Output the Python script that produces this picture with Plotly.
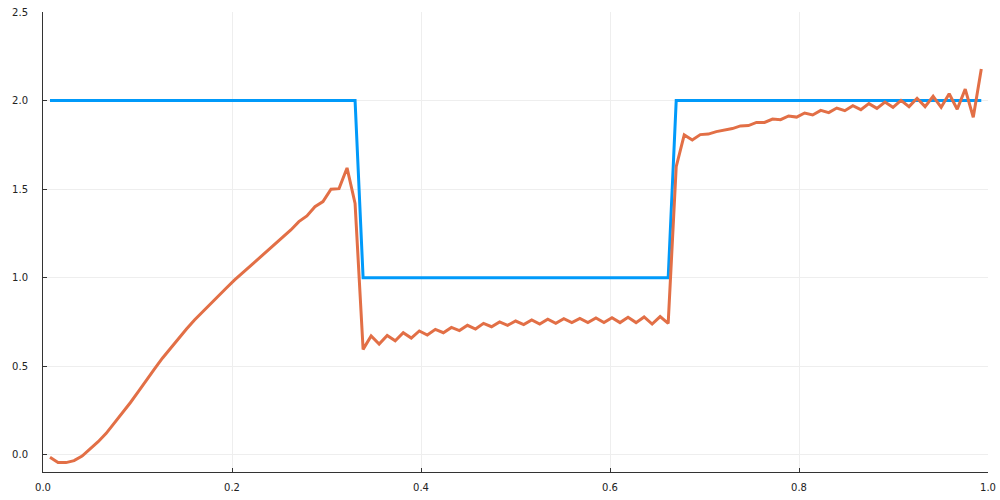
import numpy as np
import plotly.graph_objects as go

n_points = 117
x_start, x_end = 0.0074, 0.9929
x = np.linspace(x_start, x_end, n_points)

exact_levels = [2.0] * 39 + [1.0] * 39 + [2.0] * 39

approx_seg1 = [-0.013, -0.043, -0.043, -0.032, -0.006, 0.032, 0.075, 0.122, 0.179, 0.235,
               0.295, 0.357, 0.423, 0.484, 0.546, 0.602, 0.658, 0.711, 0.762, 0.809,
               0.856, 0.901, 0.944, 0.988, 1.029, 1.068, 1.108, 1.151, 1.191, 1.232,
               1.270, 1.317, 1.349, 1.401, 1.430, 1.500, 1.503, 1.620, 1.420]
approx_seg2 = [0.596, 0.672, 0.626, 0.675, 0.645, 0.690, 0.660, 0.700, 0.677, 0.709,
               0.690, 0.720, 0.702, 0.732, 0.711, 0.743, 0.724, 0.751, 0.732, 0.756,
               0.736, 0.762, 0.739, 0.766, 0.743, 0.769, 0.747, 0.771, 0.747, 0.773,
               0.747, 0.775, 0.747, 0.777, 0.747, 0.779, 0.739, 0.781, 0.743]
approx_seg3 = [1.627, 1.806, 1.778, 1.808, 1.811, 1.825, 1.834, 1.842, 1.857, 1.859,
               1.877, 1.877, 1.896, 1.892, 1.913, 1.907, 1.930, 1.919, 1.945, 1.932,
               1.958, 1.943, 1.971, 1.949, 1.983, 1.956, 1.992, 1.962, 2.001, 1.966,
               2.013, 1.966, 2.024, 1.962, 2.039, 1.951, 2.065, 1.906, 2.178]
approx = approx_seg1 + approx_seg2 + approx_seg3

x_ticks = [0.0, 0.2, 0.4, 0.6, 0.8, 1.0]
x_tick_labels = ["0.0", "0.2", "0.4", "0.6", "0.8", "1.0"]
y_ticks = [0.0, 0.5, 1.0, 1.5, 2.0, 2.5]
y_tick_labels = ["0.0", "0.5", "1.0", "1.5", "2.0", "2.5"]

fig = go.Figure()
fig.add_trace(go.Scatter(x=x, y=exact_levels, mode="lines",
                         line=dict(color="#009AFA", width=3), name="y1"))
fig.add_trace(go.Scatter(x=x, y=approx, mode="lines",
                         line=dict(color="#E26F46", width=3), name="y2"))

axis_common = dict(
    showgrid=True, gridcolor="#eeeeee", gridwidth=1, automargin=False,
    zeroline=False, showline=True, linecolor="#333333", linewidth=1,
    ticks="inside", ticklen=4, tickcolor="#333333",
    tickfont=dict(family="DejaVu Sans", size=10, color="#222222"),
)
fig.update_xaxes(range=[0, 1], tickvals=x_ticks, ticktext=x_tick_labels,
                 ticklabelstandoff=6, **axis_common)
fig.update_yaxes(range=[-0.096, 2.5], tickvals=y_ticks, ticktext=y_tick_labels,
                 ticklabelstandoff=12, **axis_common)

fig.update_layout(
    width=1000, height=500, autosize=False,
    margin=dict(l=43, r=12, t=12, b=28),
    plot_bgcolor="white", paper_bgcolor="white",
    showlegend=False,
)
fig.write_html(
    "out.html",
    config={"displayModeBar": False},
    post_script="document.body.style.margin='0';document.body.style.overflow='hidden';",
)
